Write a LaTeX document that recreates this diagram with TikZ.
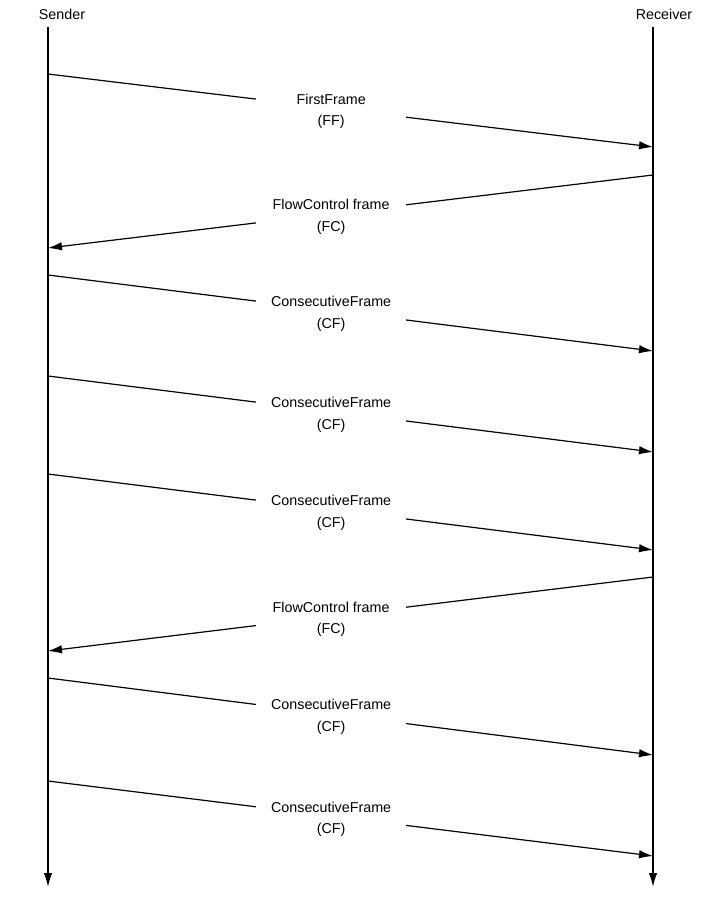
\documentclass[tikz,border=0pt]{standalone}
\usepackage{fontspec}
\setmainfont{Liberation Sans}
\usetikzlibrary{arrows.meta}
\begin{document}
\begin{tikzpicture}[
  x=1pt,y=-1pt,
  every node/.style={font=\fontsize{14.3}{21.5}\selectfont},
  lifeline/.style={line width=1.6pt,-{Latex[length=14pt,width=8.5pt]}},
  msg/.style={line width=1.2pt,-{Latex[length=14pt,width=8.5pt]}},
  gap/.style={fill=white,minimum width=150pt,align=center,inner sep=0pt,yshift=-3pt}
]
\useasboundingbox (0,0) rectangle (701,904);
\node (sender) at (62,14) {Sender};
\node (receiver) at (664,14) {Receiver};
\coordinate (sTop) at (48,27);
\coordinate (sBot) at (48,887);
\coordinate (rTop) at (653,27);
\coordinate (rBot) at (653,887);
\draw[lifeline] (sTop) -- (sBot);
\draw[lifeline] (rTop) -- (rBot);
% sender to receiver
\foreach \ys/\yr/\lbl/\abbr [count=\i] in {74/147/FirstFrame/FF,
    275/351/ConsecutiveFrame/CF, 376/452/ConsecutiveFrame/CF,
    474/550/ConsecutiveFrame/CF, 678/755/ConsecutiveFrame/CF,
    781/856/ConsecutiveFrame/CF}{
  \coordinate (s\i) at (48,\ys);
  \coordinate (r\i) at (653,\yr);
  \draw[msg] (s\i) -- node[gap,pos=.468] {\lbl\\(\abbr)} (r\i);
}
% receiver to sender
\foreach \yr/\ys [count=\i] in {175/248, 577/651}{
  \coordinate (fcR\i) at (653,\yr);
  \coordinate (fcS\i) at (48,\ys);
  \draw[msg] (fcR\i) -- node[gap,pos=.532] {FlowControl frame\\(FC)} (fcS\i);
}
\end{tikzpicture}
\end{document}
